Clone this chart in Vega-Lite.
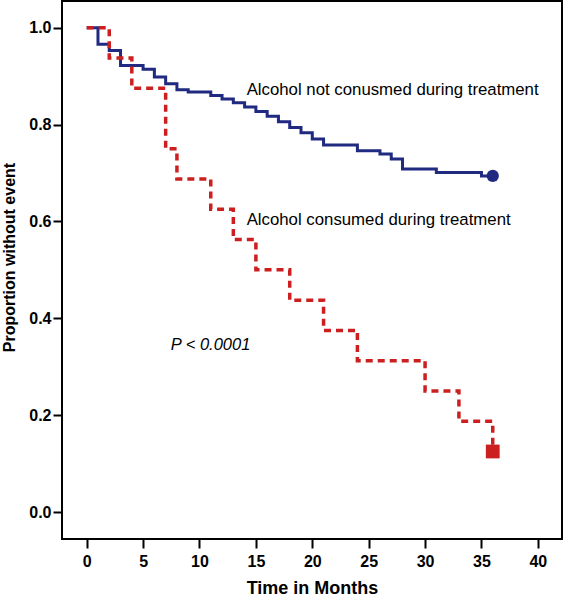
{
  "$schema": "https://vega.github.io/schema/vega-lite/v6.json",
  "width": 500,
  "height": 538,
  "autosize": {"type": "none"},
  "padding": {"left": 62, "right": 3, "top": 1, "bottom": 61},
  "background": "white",
  "config": {
    "font": "Liberation Sans",
    "view": {"stroke": "black", "strokeWidth": 2},
    "axis": {
      "grid": false,
      "domain": false,
      "ticks": true,
      "tickColor": "black",
      "tickWidth": 2,
      "tickSize": 9,
      "labelFont": "Liberation Sans",
      "labelFontWeight": "bold",
      "labelFontSize": 16,
      "labelColor": "black",
      "titleFont": "Liberation Sans",
      "titleFontWeight": "bold",
      "titleColor": "black"
    }
  },
  "datasets": {
    "km": [
      {"group": "not", "t": 0, "s": 1.0},
      {"group": "not", "t": 1, "s": 0.966},
      {"group": "not", "t": 2, "s": 0.953},
      {"group": "not", "t": 3, "s": 0.922},
      {"group": "not", "t": 5, "s": 0.914},
      {"group": "not", "t": 6, "s": 0.898},
      {"group": "not", "t": 7, "s": 0.884},
      {"group": "not", "t": 8, "s": 0.872},
      {"group": "not", "t": 9, "s": 0.867},
      {"group": "not", "t": 11, "s": 0.860},
      {"group": "not", "t": 12, "s": 0.853},
      {"group": "not", "t": 13, "s": 0.845},
      {"group": "not", "t": 14, "s": 0.836},
      {"group": "not", "t": 15, "s": 0.827},
      {"group": "not", "t": 16, "s": 0.817},
      {"group": "not", "t": 17, "s": 0.806},
      {"group": "not", "t": 18, "s": 0.794},
      {"group": "not", "t": 19, "s": 0.783},
      {"group": "not", "t": 20, "s": 0.770},
      {"group": "not", "t": 21, "s": 0.758},
      {"group": "not", "t": 24, "s": 0.746},
      {"group": "not", "t": 26, "s": 0.739},
      {"group": "not", "t": 27, "s": 0.729},
      {"group": "not", "t": 28, "s": 0.708},
      {"group": "not", "t": 31, "s": 0.701},
      {"group": "not", "t": 35, "s": 0.694},
      {"group": "not", "t": 36, "s": 0.694},
      {"group": "yes", "t": 0, "s": 1.0},
      {"group": "yes", "t": 2, "s": 0.9375},
      {"group": "yes", "t": 4, "s": 0.875},
      {"group": "yes", "t": 7, "s": 0.75},
      {"group": "yes", "t": 8, "s": 0.6875},
      {"group": "yes", "t": 11, "s": 0.625},
      {"group": "yes", "t": 13, "s": 0.5625},
      {"group": "yes", "t": 15, "s": 0.5},
      {"group": "yes", "t": 18, "s": 0.4375},
      {"group": "yes", "t": 21, "s": 0.375},
      {"group": "yes", "t": 24, "s": 0.3125},
      {"group": "yes", "t": 30, "s": 0.25},
      {"group": "yes", "t": 33, "s": 0.1875},
      {"group": "yes", "t": 36, "s": 0.125}
    ],
    "ends": [
      {"group": "not", "t": 36, "s": 0.694},
      {"group": "yes", "t": 36, "s": 0.125}
    ],
    "labels": [
      {"label": "Alcohol not conusmed during treatment", "t": 14.18, "s": 0.861, "kind": "curve"},
      {"label": "Alcohol consumed during treatment", "t": 14.18, "s": 0.592, "kind": "curve"},
      {"label": "P < 0.0001", "t": 7.45, "s": 0.334, "kind": "p"}
    ]
  },
  "layer": [
    {
      "data": {"name": "km"},
      "transform": [{"filter": "datum.group === 'not'"}],
      "mark": {"type": "line", "interpolate": "step-after", "color": "#1f2a80", "strokeWidth": 3},
      "encoding": {
        "x": {"field": "t", "type": "quantitative", "scale": {"domain": [-2.19, 42.14], "nice": false, "zero": false},
              "axis": {"values": [0, 5, 10, 15, 20, 25, 30, 35, 40], "title": "Time in Months", "titleFontSize": 18, "titlePadding": 10, "labelPadding": 5}},
        "y": {"field": "s", "type": "quantitative", "scale": {"domain": [-0.0557, 1.0551], "nice": false, "zero": false},
              "axis": {"values": [0, 0.2, 0.4, 0.6, 0.8, 1.0], "format": ".1f", "title": "Proportion without event", "titleFontSize": 16, "titlePadding": 11, "labelPadding": 2, "titleY": 256}}
      }
    },
    {
      "data": {"name": "km"},
      "transform": [{"filter": "datum.group === 'yes'"}],
      "mark": {"type": "line", "interpolate": "step-after", "color": "#cc1f1f", "strokeWidth": 3.5, "strokeDash": [7, 5]},
      "encoding": {
        "x": {"field": "t", "type": "quantitative"},
        "y": {"field": "s", "type": "quantitative"}
      }
    },
    {
      "data": {"name": "ends"},
      "transform": [{"filter": "datum.group === 'not'"}],
      "mark": {"type": "point", "shape": "circle", "filled": true, "color": "#1f2a80", "size": 150, "opacity": 1},
      "encoding": {
        "x": {"field": "t", "type": "quantitative"},
        "y": {"field": "s", "type": "quantitative"}
      }
    },
    {
      "data": {"name": "ends"},
      "transform": [{"filter": "datum.group === 'yes'"}],
      "mark": {"type": "point", "shape": "square", "filled": true, "color": "#cc1f1f", "size": 190, "opacity": 1},
      "encoding": {
        "x": {"field": "t", "type": "quantitative"},
        "y": {"field": "s", "type": "quantitative"}
      }
    },
    {
      "data": {"name": "labels"},
      "transform": [{"filter": "datum.kind === 'curve'"}],
      "mark": {"type": "text", "align": "left", "baseline": "alphabetic", "fontSize": 16.8, "color": "black", "font": "Liberation Sans"},
      "encoding": {
        "x": {"field": "t", "type": "quantitative"},
        "y": {"field": "s", "type": "quantitative"},
        "text": {"field": "label"}
      }
    },
    {
      "data": {"name": "labels"},
      "transform": [{"filter": "datum.kind === 'p'"}],
      "mark": {"type": "text", "align": "left", "baseline": "alphabetic", "fontSize": 16.5, "fontStyle": "italic", "color": "black", "font": "Liberation Sans"},
      "encoding": {
        "x": {"field": "t", "type": "quantitative"},
        "y": {"field": "s", "type": "quantitative"},
        "text": {"field": "label"}
      }
    }
  ]
}
